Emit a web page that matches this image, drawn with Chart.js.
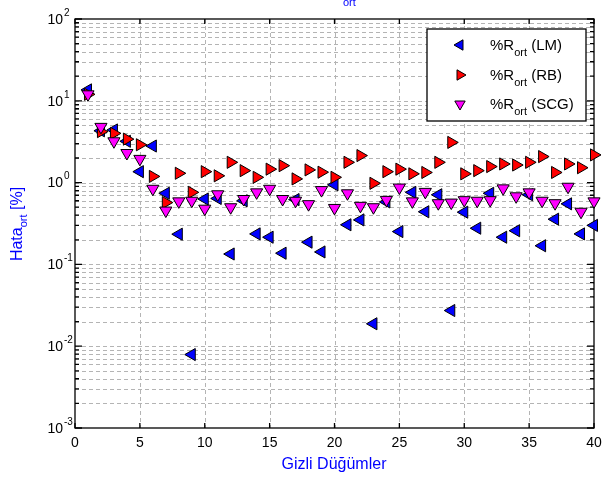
<!DOCTYPE html>
<html>
<head>
<meta charset="utf-8">
<script src="https://cdn.jsdelivr.net/npm/chart.js@4.4.1/dist/chart.umd.min.js"></script>
<style>
  html, body { margin: 0; padding: 0; background: #fff; }
  #wrap { width: 602px; height: 477px; }
</style>
</head>
<body>
<div id="wrap"><canvas id="chart" width="602" height="477"></canvas></div>
<script>
// gizli dugum sayisi
const nodes = [1, 2, 3, 4, 5, 6, 7, 8, 9, 10, 11, 12, 13, 14, 15, 16, 17, 18, 19, 20,
  21, 22, 23, 24, 25, 26, 27, 28, 29, 30, 31, 32, 33, 34, 35, 36, 37, 38, 39, 40];

// ortalama hata (%)
const errLM = [13.6, 4.3, 4.4, 3.2, 1.36, 2.8, 0.74, 0.234, 0.0079, 0.63,
  0.64, 0.134, 0.6, 0.236, 0.215, 0.137, 0.62, 0.187, 0.142, 0.94,
  0.305, 0.35, 0.0188, 0.58, 0.252, 0.76, 0.44, 0.71, 0.0273, 0.435,
  0.277, 0.74, 0.215, 0.258, 0.71, 0.169, 0.357, 0.55, 0.236, 0.30];
const errRB = [12, 4.2, 4.0, 3.4, 2.9, 1.19, 0.57, 1.30, 0.76, 1.36,
  1.21, 1.77, 1.40, 1.16, 1.46, 1.61, 1.11, 1.43, 1.34, 1.16,
  1.77, 2.14, 0.98, 1.36, 1.46, 1.28, 1.33, 1.77, 3.1, 1.28,
  1.40, 1.57, 1.69, 1.64, 1.77, 2.08, 1.33, 1.69, 1.52, 2.18];
const errSCG = [12, 4.8, 3.2, 2.3, 1.95, 0.84, 0.455, 0.59, 0.60, 0.48,
  0.72, 0.50, 0.63, 0.76, 0.84, 0.63, 0.60, 0.545, 0.81, 0.49,
  0.74, 0.52, 0.50, 0.615, 0.87, 0.59, 0.77, 0.56, 0.57, 0.61,
  0.60, 0.61, 0.85, 0.68, 0.76, 0.60, 0.56, 0.89, 0.44, 0.59];

const xTicks = [0, 5, 10, 15, 20, 25, 30, 35, 40];
const yDecades = [-3, -2, -1, 0, 1, 2];
const seriesNames = ['(LM)', '(RB)', '(SCG)'];

const FONT = 'Arial, "Liberation Sans", Helvetica, sans-serif';

function toPoints(vals) {
  return nodes.map((n, i) => ({ x: n, y: vals[i] }));
}

function makeSet(label, vals, color, rot, order) {
  return {
    label,
    data: toPoints(vals),
    pointStyle: 'triangle',
    pointRotation: rot,
    pointRadius: 7,
    pointBackgroundColor: color,
    pointBorderColor: '#000',
    pointBorderWidth: 1,
    showLine: false,
    clip: false,
    order
  };
}

// eksenler, izgara, etiketler ve lejant (matlab gorunumu)
const matlabAxes = {
  id: 'matlabAxes',
  beforeDraw(chart) {
    const ctx = chart.ctx;
    ctx.save();
    ctx.fillStyle = '#fff';
    ctx.fillRect(0, 0, chart.width, chart.height);
    ctx.restore();
  },
  beforeDatasetsDraw(chart) {
    const { ctx, chartArea: a, scales } = chart;
    const xs = scales.x, ys = scales.y;
    ctx.save();
    ctx.strokeStyle = '#b4b4b4';
    ctx.lineWidth = 1;
    ctx.setLineDash([4, 3]);
    xTicks.forEach(t => {
      const px = Math.round(xs.getPixelForValue(t)) + 0.5;
      if (t === 0 || t === 40) return;
      ctx.beginPath();
      ctx.moveTo(px, a.top);
      ctx.lineTo(px, a.bottom);
      ctx.stroke();
    });
    yDecades.forEach(e => {
      for (let m = 1; m <= 9; m++) {
        if (e === 2 && m > 1) break;
        const v = m * Math.pow(10, e);
        const py = Math.round(ys.getPixelForValue(v)) + 0.5;
        if (py <= a.top + 1 || py >= a.bottom - 1) continue;
        ctx.beginPath();
        ctx.moveTo(a.left, py);
        ctx.lineTo(a.right, py);
        ctx.stroke();
      }
    });
    ctx.setLineDash([]);

    // cerceve
    ctx.strokeStyle = '#000';
    ctx.lineWidth = 1.3;
    ctx.strokeRect(a.left, a.top, a.right - a.left, a.bottom - a.top);

    // tik isaretleri
    xTicks.forEach(t => {
      const px = xs.getPixelForValue(t);
      ctx.beginPath();
      ctx.moveTo(px, a.bottom); ctx.lineTo(px, a.bottom - 5);
      ctx.moveTo(px, a.top); ctx.lineTo(px, a.top + 5);
      ctx.stroke();
    });
    yDecades.forEach(e => {
      for (let m = 1; m <= 9; m++) {
        if (e === 2 && m > 1) break;
        const py = ys.getPixelForValue(m * Math.pow(10, e));
        const len = m === 1 ? 7 : 4;
        ctx.beginPath();
        ctx.moveTo(a.left, py); ctx.lineTo(a.left + len, py);
        ctx.moveTo(a.right, py); ctx.lineTo(a.right - len, py);
        ctx.stroke();
      }
    });

    // x etiketleri
    ctx.fillStyle = '#000';
    ctx.font = '14px ' + FONT;
    ctx.textAlign = 'center';
    ctx.textBaseline = 'middle';
    xTicks.forEach(t => {
      ctx.fillText(String(t), xs.getPixelForValue(t), 443);
    });

    // y etiketleri 10^n
    yDecades.forEach(e => {
      const py = ys.getPixelForValue(Math.pow(10, e));
      ctx.font = '14px ' + FONT;
      ctx.textAlign = 'right';
      ctx.textBaseline = 'middle';
      ctx.fillText('10', 63, py + 1);
      ctx.font = '10px ' + FONT;
      ctx.textAlign = 'left';
      ctx.fillText(String(e), 64, py - 6);
    });

    // eksen basliklari
    ctx.fillStyle = '#0000ff';
    ctx.textBaseline = 'alphabetic';
    ctx.font = '16px ' + FONT;
    ctx.textAlign = 'center';
    ctx.fillText('Gizli Düğümler', 334, 469);

    ctx.save();
    ctx.translate(22, 224);
    ctx.rotate(-Math.PI / 2);
    ctx.textAlign = 'left';
    ctx.font = '16px ' + FONT;
    const w1 = ctx.measureText('Hata').width;
    const w3 = ctx.measureText(' [%]').width;
    ctx.font = '11px ' + FONT;
    const w2 = ctx.measureText('ort').width;
    let x0 = -(w1 + w2 + w3) / 2;
    ctx.font = '16px ' + FONT;
    ctx.fillText('Hata', x0, 0);
    ctx.font = '11px ' + FONT;
    ctx.fillText('ort', x0 + w1, 5);
    ctx.font = '16px ' + FONT;
    ctx.fillText(' [%]', x0 + w1 + w2, 0);
    ctx.restore();

    // ustte kesilmis baslik parcasi
    ctx.font = '11px ' + FONT;
    ctx.textAlign = 'left';
    ctx.fillText('ort', 343, 6);
    ctx.restore();
  },
  afterDatasetsDraw(chart) {
    const ctx = chart.ctx;
    ctx.save();
    ctx.fillStyle = '#fff';
    ctx.fillRect(427, 29, 159, 92);
    ctx.strokeStyle = '#000';
    ctx.lineWidth = 1.3;
    ctx.strokeRect(427, 29, 159, 92);
    const rows = [45, 75, 104];
    chart.data.datasets.forEach((ds, i) => {
      const y = rows[i];
      ctx.fillStyle = ds.pointBackgroundColor;
      ctx.strokeStyle = '#000';
      ctx.lineWidth = 1;
      Chart.helpers.drawPoint(ctx, {
        pointStyle: 'triangle',
        rotation: ds.pointRotation,
        radius: 6,
        borderWidth: 1
      }, 460, y);
      ctx.fillStyle = '#000';
      ctx.textAlign = 'left';
      ctx.textBaseline = 'alphabetic';
      ctx.font = '15px ' + FONT;
      const wR = ctx.measureText('%R').width;
      ctx.fillText('%R', 490, y + 5);
      ctx.font = '11px ' + FONT;
      const wO = ctx.measureText('ort').width;
      ctx.fillText('ort', 490 + wR, y + 11);
      ctx.font = '15px ' + FONT;
      ctx.fillText(' ' + seriesNames[i], 490 + wR + wO, y + 5);
    });
    ctx.restore();
  }
};

new Chart(document.getElementById('chart'), {
  type: 'scatter',
  data: {
    datasets: [
      makeSet('%Rort (LM)', errLM, '#0000ff', 270, 3),
      makeSet('%Rort (RB)', errRB, '#ff0000', 90, 2),
      makeSet('%Rort (SCG)', errSCG, '#ff00ff', 180, 1)
    ]
  },
  options: {
    responsive: false,
    animation: false,
    layout: { padding: { left: 75, right: 8, top: 19, bottom: 49 } },
    plugins: {
      legend: { display: false },
      tooltip: { enabled: false },
      title: { display: false }
    },
    scales: {
      x: { type: 'linear', min: 0, max: 40, display: false },
      y: { type: 'logarithmic', min: 0.001, max: 100, display: false }
    }
  },
  plugins: [matlabAxes]
});
</script>
</body>
</html>
